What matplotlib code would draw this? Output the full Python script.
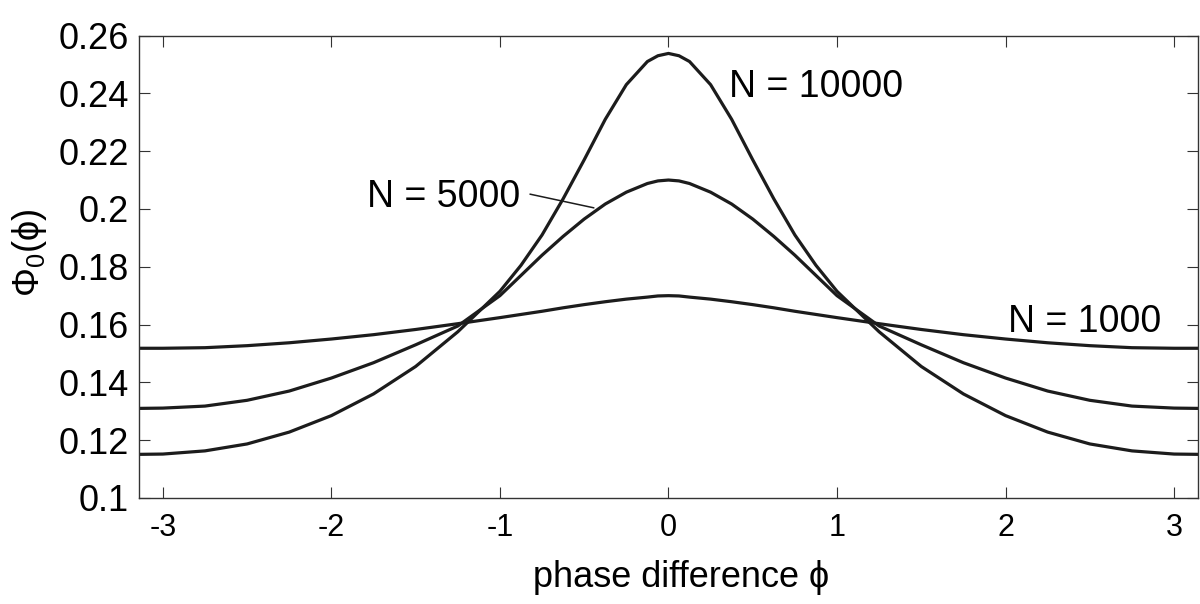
import matplotlib
matplotlib.use('Agg')
import matplotlib.pyplot as plt

plt.rcParams['font.family'] = ['Liberation Sans', 'DejaVu Sans']
plt.rcParams['mathtext.fontset'] = 'custom'
plt.rcParams['mathtext.rm'] = 'Liberation Sans'
plt.rcParams['mathtext.it'] = 'Liberation Sans'

# phase difference
phi = [-3.1416, -3.0, -2.75, -2.5, -2.25, -2.0, -1.75, -1.5, -1.25,
       -1.0, -0.875, -0.75, -0.625, -0.5, -0.375, -0.25, -0.125, -0.0625, 0.0,
       0.0625, 0.125, 0.25, 0.375, 0.5, 0.625, 0.75, 0.875, 1.0,
       1.25, 1.5, 1.75, 2.0, 2.25, 2.5, 2.75, 3.0, 3.1416]

n10000 = [0.1151, 0.1152, 0.1163, 0.1187, 0.1228, 0.1285, 0.1360, 0.1455, 0.1575,
          0.1715, 0.1805, 0.1910, 0.2035, 0.2170, 0.2310, 0.2430, 0.2510, 0.2530, 0.2538,
          0.2530, 0.2510, 0.2430, 0.2310, 0.2170, 0.2035, 0.1910, 0.1805, 0.1715,
          0.1575, 0.1455, 0.1360, 0.1285, 0.1228, 0.1187, 0.1163, 0.1152, 0.1151]

n5000 = [0.1310, 0.1311, 0.1318, 0.1338, 0.1370, 0.1415, 0.1468, 0.1530, 0.1595,
         0.1700, 0.1770, 0.1840, 0.1905, 0.1965, 0.2017, 0.2058, 0.2088, 0.2097, 0.2100,
         0.2097, 0.2088, 0.2058, 0.2017, 0.1965, 0.1905, 0.1840, 0.1770, 0.1700,
         0.1595, 0.1530, 0.1468, 0.1415, 0.1370, 0.1338, 0.1318, 0.1311, 0.1310]

n1000 = [0.1518, 0.1518, 0.1520, 0.1527, 0.1537, 0.1550, 0.1565, 0.1583, 0.1603,
         0.1624, 0.1635, 0.1646, 0.1658, 0.1669, 0.1679, 0.1688, 0.1695, 0.1699, 0.1700,
         0.1699, 0.1695, 0.1688, 0.1679, 0.1669, 0.1658, 0.1646, 0.1635, 0.1624,
         0.1603, 0.1583, 0.1565, 0.1550, 0.1537, 0.1527, 0.1520, 0.1518, 0.1518]

xticks = [-3, -2, -1, 0, 1, 2, 3]
yticks = [0.1, 0.12, 0.14, 0.16, 0.18, 0.2, 0.22, 0.24, 0.26]
ytick_labels = ['0.1', '0.12', '0.14', '0.16', '0.18', '0.2', '0.22', '0.24', '0.26']

fig = plt.figure(figsize=(12, 6.04), dpi=100)
ax = fig.add_axes([0.1158, 0.1755, 0.8825, 0.7657])

line_col = '#1c1c1c'
for y in (n10000, n5000, n1000):
    ax.plot(phi, y, color=line_col, lw=2.3, solid_joinstyle='round')

ax.set_xlim(-3.1416, 3.1416)
ax.set_ylim(0.1, 0.26)
ax.set_xticks(xticks)
ax.set_xticklabels([str(t) for t in xticks])
ax.set_yticks(yticks)
ax.set_yticklabels(ytick_labels)

ax.tick_params(direction='in', length=8, width=0.8, top=True, right=True, color='#333333')
ax.tick_params(axis='y', labelsize=26, pad=7)
ax.tick_params(axis='x', labelsize=22, pad=11)
for s in ax.spines.values():
    s.set_linewidth(1.0)
    s.set_color('#333333')

ax.set_xlabel('phase difference ϕ', fontsize=26, va='top')
ax.xaxis.set_label_coords(0.512, -0.133)
ax.set_ylabel('Φ$_0$(ϕ)', fontsize=26, va='center')
ax.yaxis.set_label_coords(-0.103, 0.53)

ax.text(0.357, 0.2387, 'N = 10000', fontsize=27, va='baseline', ha='left')
ax.text(-1.789, 0.2007, 'N = 5000', fontsize=27, va='baseline', ha='left')
ax.text(2.014, 0.1575, 'N = 1000', fontsize=27, va='baseline', ha='left')
ax.plot([-0.82, -0.444], [0.2051, 0.2004], color=line_col, lw=1.1)

fig.savefig('out.png', dpi=100)
